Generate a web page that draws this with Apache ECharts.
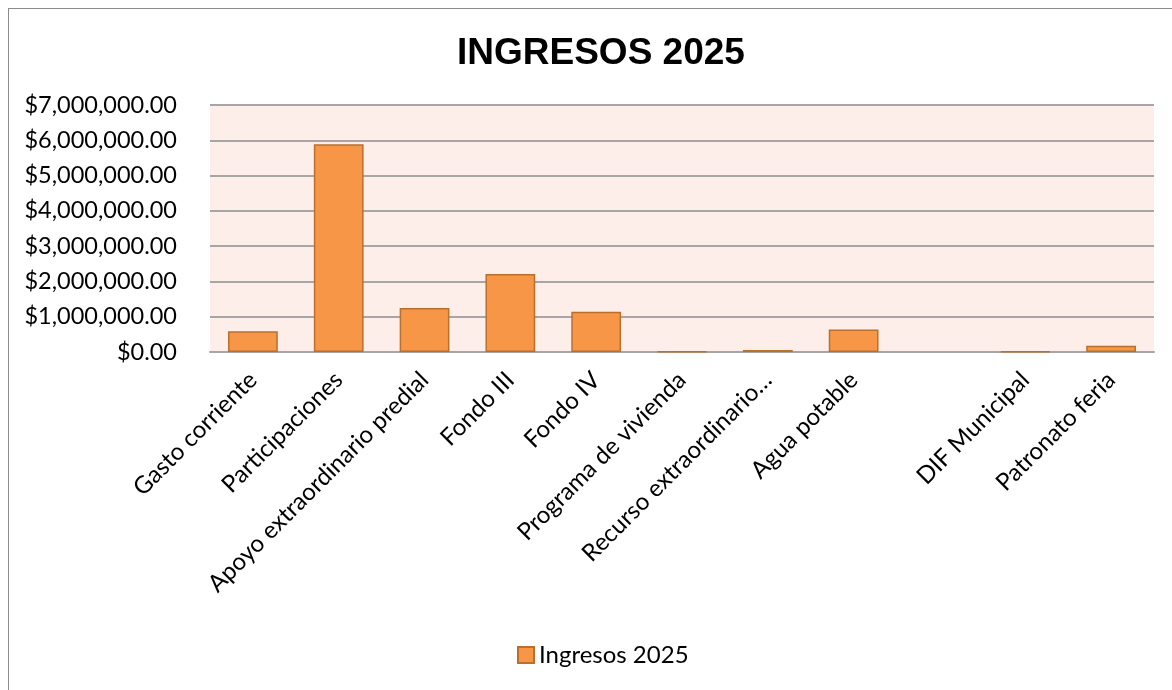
<!DOCTYPE html>
<html>
<head>
<meta charset="utf-8">
<script src="https://cdn.jsdelivr.net/npm/echarts@6/dist/echarts.min.js"></script>
<style>
  html, body { margin: 0; padding: 0; background: #fff; overflow: hidden; }
  #frame { position: absolute; left: 8px; top: 8px; width: 1200px; height: 720px; border: 1px solid #8c8c8c; }
  #chart { position: absolute; left: 0; top: 0; width: 1172px; height: 690px; }
</style>
</head>
<body>
<div id="frame"></div>
<div id="chart"></div>
<script>
// categories as labelled on the axis (one slot has no label)
const categories = [
  "Gasto corriente",
  "Participaciones",
  "Apoyo extraordinario predial",
  "Fondo III",
  "Fondo IV",
  "Programa de vivienda",
  "Recurso extraordinario…",
  "Agua potable",
  "",
  "DIF Municipal",
  "Patronato feria"
];
const ingresos = [590000, 5890000, 1250000, 2210000, 1140000, 20000, 60000, 640000, null, 20000, 180000];
const yTicks = [0, 1000000, 2000000, 3000000, 4000000, 5000000, 6000000, 7000000];

const FONT = "Lato";

function money(v) {
  return "$" + v.toLocaleString("en-US", { minimumFractionDigits: 2, maximumFractionDigits: 2 });
}

const option = {
  animation: false,
  title: {
    text: "INGRESOS 2025",
    left: 452,
    top: 30,
    textStyle: {
      fontFamily: "Liberation Sans",
      fontWeight: "bold",
      fontSize: 37,
      color: "#000"
    }
  },
  legend: {
    bottom: 18,
    left: 512,
    itemWidth: 16,
    itemHeight: 16,
    itemGap: 6,
    icon: "rect",
    textStyle: { fontFamily: FONT, fontSize: 24, color: "#000" },
    data: ["Ingresos 2025"]
  },
  grid: {
    left: 210,
    right: 18,
    top: 105,
    bottom: 338,
    show: true,
    backgroundColor: "#fdeeea",
    borderWidth: 0
  },
  xAxis: {
    type: "category",
    data: categories,
    axisLine: { lineStyle: { color: "#a6a6a6", width: 2 } },
    axisTick: { show: false },
    axisLabel: {
      rotate: 45,
      interval: 0,
      margin: 24,
      fontFamily: FONT,
      fontSize: 24,
      color: "#000"
    }
  },
  yAxis: {
    type: "value",
    min: yTicks[0],
    max: yTicks[yTicks.length - 1],
    interval: yTicks[1] - yTicks[0],
    axisLine: { show: false },
    axisTick: { show: false },
    axisLabel: {
      margin: 33,
      fontFamily: FONT,
      fontSize: 23.5,
      color: "#000",
      formatter: money
    },
    splitLine: { lineStyle: { color: "#a6a6a6", width: 2 } }
  },
  series: [
    {
      type: "bar",
      name: "Ingresos 2025",
      data: ingresos,
      barCategoryGap: "42%",
      itemStyle: {
        color: "#f79646",
        borderColor: "#b9702f",
        borderWidth: 1.5
      }
    }
  ]
};

const myChart = echarts.init(document.getElementById("chart"));
myChart.setOption(option);
</script>
</body>
</html>
